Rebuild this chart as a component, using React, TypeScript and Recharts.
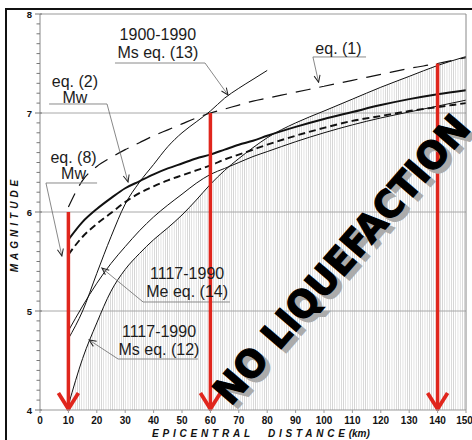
import { Area, ComposedChart, Line, ReferenceDot, ReferenceLine, XAxis, YAxis } from 'recharts'

// epicentral distance (km) where the curves were read
const distances = [10, 15, 20, 25, 30, 35, 40, 45, 50, 55, 60, 65, 70, 75, 80, 90, 100, 110, 120, 130, 140, 150]
// eq. (1), long dashes
const eq1Mag = [6.05, 6.32, 6.46, 6.55, 6.63, 6.7, 6.77, 6.83, 6.89, 6.95, 7.0, 7.04, 7.08, 7.12, 7.15, 7.21, 7.27, 7.33, 7.39, 7.45, 7.5, 7.56]
// eq. (2) Mw, thick solid
const eq2Mag = [5.72, 5.9, 6.03, 6.14, 6.24, 6.31, 6.38, 6.44, 6.49, 6.54, 6.58, 6.63, 6.68, 6.72, 6.77, 6.86, 6.94, 7.01, 7.08, 7.14, 7.19, 7.23]
// eq. (8) Mw, thick dashed
const eq8Mag = [5.57, 5.75, 5.88, 5.99, 6.1, 6.19, 6.26, 6.32, 6.37, 6.42, 6.47, 6.53, 6.58, 6.63, 6.68, 6.77, 6.85, 6.92, 6.97, 7.02, 7.06, 7.1]
// 1900-1990 Ms eq. (13)
const ms13Mag = [4.72, 5.0, 5.38, 5.75, 6.08, 6.3, 6.48, 6.66, 6.8, 6.91, 7.02, 7.15, 7.25, 7.34, 7.43, null, null, null, null, null, null, null]
// 1117-1990 Me eq. (14)
const me14Mag = [4.8, 5.05, 5.28, 5.48, 5.65, 5.81, 5.95, 6.07, 6.18, 6.29, 6.38, 6.44, 6.5, 6.56, 6.61, 6.71, 6.8, 6.88, 6.95, 7.01, 7.07, 7.13]
// 1117-1990 Ms eq. (12), upper limit of the hatched zone
const ms12Mag = [4.05, 4.52, 4.88, 5.2, 5.42, 5.58, 5.72, 5.84, 5.97, 6.12, 6.28, 6.42, 6.54, 6.65, 6.75, 6.9, 7.02, 7.14, 7.26, 7.37, 7.48, 7.57]

const xTicks = [0, 10, 20, 30, 40, 50, 60, 70, 80, 90, 100, 110, 120, 130, 140, 150]
const yLabels = [4, 5, 6, 7, 8]
const gridMags = [5, 6, 7]
const arrowDist = [10, 60, 140]
const arrowTop = [6.0, 7.0, 7.5]

const yTicks = Array.from({ length: 41 }, (_, i) => Math.round(40 + i) / 10)

const chartData = distances.map((d, i) => ({
  d,
  eq1: eq1Mag[i],
  eq2: eq2Mag[i],
  eq8: eq8Mag[i],
  ms13: ms13Mag[i],
  me14: me14Mag[i],
  ms12: ms12Mag[i],
}))

const FONT = 'Liberation Sans, Arial, sans-serif'
const INK = '#111'
const RED = '#e0261d'

// annotation texts with their pointer lines (positions in chart units)
const notes = [
  { d: 41.5, m: 7.735, gap: 18, lines: ['1900-1990', 'Ms eq. (13)'], under: [26.4, 58.1, 7.505], tip: [66.2, 7.182] },
  { d: 105.1, m: 7.596, gap: 18, lines: ['eq. (1)'], under: [96.1, 114.8, 7.566], tip: [98.1, 7.31], from: 'start' },
  { d: 12.3, m: 7.266, gap: 16, lines: ['eq. (2)', 'Mw'], under: [3.2, 23.6, 7.091], tip: [31.0, 6.303] },
  { d: 11.8, m: 6.495, gap: 16, lines: ['eq. (8)', 'Mw'], under: [2.1, 20.1, 6.293], tip: [7.7, 5.556], from: 'start' },
  { d: 51.8, m: 5.326, gap: 18, lines: ['1117-1990', 'Me eq. (14)'], under: [36.3, 66.9, 5.091], tip: [21.8, 5.434], from: 'start' },
  { d: 41.9, m: 4.74, gap: 18, lines: ['1117-1990', 'Ms eq. (12)'], under: [27.5, 55.6, 4.515], tip: [17.3, 4.707], from: 'start' },
]

function LeftTick({ x, y, payload }: any) {
  const v = payload.value
  const major = yLabels.includes(v)
  return (
    <g>
      <line x1={x - (major ? 5 : 3.5)} x2={x + (major ? 2 : 0)} y1={y} y2={y} stroke="#777" strokeWidth={1} />
      {major && (
        <text x={x - 8} y={y + 3.5} textAnchor="end" fontSize={9.5} fontWeight="bold" fontFamily={FONT} fill={INK}>
          {v}
        </text>
      )}
    </g>
  )
}

function RightTick({ x, y, payload }: any) {
  const major = yLabels.includes(payload.value)
  return <line x1={x} x2={x + (major ? 6 : 4)} y1={y} y2={y} stroke="#777" strokeWidth={1} />
}

const segment = (color: string, width: number, marker?: string) => (p: any) => (
  <line
    x1={p.x1}
    y1={p.y1}
    x2={p.x2}
    y2={p.y2}
    stroke={color}
    strokeWidth={width}
    markerEnd={marker ? `url(#${marker})` : undefined}
  />
)

const noteText = (lines: string[], gap: number) => (p: any) => (
  <g>
    {lines.map((t, i) => (
      <text key={t} x={p.cx} y={p.cy + i * gap} textAnchor="middle" fontSize={16} fontFamily={FONT} fill="#1c1c1c">
        {t}
      </text>
    ))}
  </g>
)

function BigText(p: any) {
  const draw = (dx: number, dy: number, fill: string) => (
    <text
      x={0}
      y={0}
      transform={`translate(${p.cx + dx},${p.cy + dy}) rotate(-49)`}
      textAnchor="middle"
      dominantBaseline="central"
      fontFamily="DejaVu Sans Condensed, DejaVu Sans"
      fontWeight="bold"
      fontSize={38}
      textLength={368}
      lengthAdjust="spacingAndGlyphs"
      fill={fill}
      stroke={fill}
      strokeWidth={1.2}
    >
      NO LIQUEFACTION
    </text>
  )
  return (
    <g>
      {draw(5, 4, '#ababab')}
      {draw(0, 0, '#000')}
    </g>
  )
}

function XTitle(p: any) {
  const vb = p.viewBox ?? { x: 40, y: 410 }
  return (
    <text x={vb.x + 112} y={vb.y + 27} fontSize={10} fontWeight="bold" fontStyle="italic" fontFamily={FONT} fill={INK}>
      <tspan letterSpacing={3.8}>EPICENTRAL</tspan>
      <tspan dx={14} letterSpacing={3.8}>DISTANCE</tspan>
      <tspan letterSpacing={0}>(km)</tspan>
    </text>
  )
}

function YTitle(p: any) {
  const vb = p.viewBox ?? { x: 0, y: 14, width: 40, height: 396 }
  const cx = vb.x + 14
  const cy = 224
  return (
    <text
      x={cx}
      y={cy}
      transform={`rotate(-90 ${cx} ${cy})`}
      textAnchor="middle"
      dominantBaseline="central"
      fontSize={10}
      fontWeight="bold"
      fontStyle="italic"
      fontFamily={FONT}
      letterSpacing={4}
      fill={INK}
    >
      MAGNITUDE
    </text>
  )
}

export default function App() {
  return (
    <div style={{ position: 'absolute', left: 0, top: 0, width: 472, height: 440, background: '#fff', overflow: 'hidden' }}>
      <svg width={0} height={0} style={{ position: 'absolute' }}>
        <defs>
          <pattern id="hatch" width={2.2} height={10} patternUnits="userSpaceOnUse">
            <rect x={0} y={0} width={0.7} height={10} fill="#d0d0d0" />
          </pattern>
          <marker id="redHead" viewBox="-20 -12 22 24" refX={1} refY={0} markerWidth={22} markerHeight={24} markerUnits="userSpaceOnUse" orient="auto">
            <path d="M-16,-10 L0,0 L-16,10" fill="none" stroke={RED} strokeWidth={3.8} />
          </marker>
          <marker id="leadHead" viewBox="-9 -5 10 10" refX={0} refY={0} markerWidth={10} markerHeight={10} markerUnits="userSpaceOnUse" orient="auto">
            <path d="M-7,-3 L0,0 L-7,3" fill="none" stroke="#222" strokeWidth={1} />
          </marker>
        </defs>
      </svg>
      <div style={{ position: 'absolute', left: 5, top: 8, width: 470, height: 440, borderTop: '2px solid #111', borderLeft: '2px solid #111' }} />
      <div style={{ position: 'absolute', left: 0, top: 0 }}>
        <ComposedChart width={472} height={440} data={chartData} margin={{ top: 11, right: 0, bottom: 0, left: 0 }}>
          <XAxis
            xAxisId="top"
            orientation="top"
            type="number"
            dataKey="d"
            domain={[0, 150]}
            ticks={xTicks}
            height={3}
            tick={false}
            tickSize={3}
            axisLine={{ stroke: '#999' }}
            tickLine={{ stroke: '#999' }}
          />
          <XAxis
            type="number"
            dataKey="d"
            domain={[0, 150]}
            ticks={xTicks}
            height={30}
            tickSize={3}
            tickMargin={4}
            axisLine={{ stroke: '#999' }}
            tickLine={{ stroke: '#999' }}
            tick={{ fontSize: 10, fontWeight: 'bold', fontFamily: FONT, fill: INK }}
            label={{ content: XTitle }}
          />
          <YAxis
            type="number"
            domain={[4, 8]}
            ticks={yTicks}
            interval={0}
            width={40}
            tickSize={0}
            tickMargin={0}
            tickLine={false}
            axisLine={{ stroke: '#888' }}
            tick={LeftTick}
            label={{ content: YTitle }}
          />
          <YAxis
            yAxisId="r"
            orientation="right"
            type="number"
            domain={[4, 8]}
            ticks={yTicks}
            interval={0}
            width={6}
            tickSize={0}
            tickMargin={0}
            tickLine={false}
            axisLine={{ stroke: '#888' }}
            tick={RightTick}
          />
          <Area dataKey="ms12" stroke="none" fill="url(#hatch)" fillOpacity={1} baseValue={4} isAnimationActive={false} />
          {gridMags.map((m) => (
            <ReferenceLine key={m} y={m} stroke="#a8a8a8" strokeWidth={1} />
          ))}
          <Line dataKey="eq1" type="monotone" stroke={INK} strokeWidth={1.2} strokeDasharray="15 9" dot={false} isAnimationActive={false} />
          <Line dataKey="ms13" type="monotone" stroke={INK} strokeWidth={1} dot={false} isAnimationActive={false} />
          <Line dataKey="eq2" type="monotone" stroke={INK} strokeWidth={2} dot={false} isAnimationActive={false} />
          <Line dataKey="eq8" type="monotone" stroke={INK} strokeWidth={1.9} strokeDasharray="7 4" dot={false} isAnimationActive={false} />
          <Line dataKey="me14" type="monotone" stroke={INK} strokeWidth={1} dot={false} isAnimationActive={false} />
          <Line dataKey="ms12" type="monotone" stroke={INK} strokeWidth={1} dot={false} isAnimationActive={false} />
          {notes.map((n, i) => {
            const [a, b, um] = n.under
            const start = n.from === 'start' ? a : b
            return [
              <ReferenceLine
                key={`u${i}`}
                segment={[{ x: a, y: um }, { x: b, y: um }]}
                shape={segment('#8a8a8a', 1)}
                ifOverflow="visible"
              />,
              <ReferenceLine
                key={`l${i}`}
                segment={[{ x: start, y: um }, { x: n.tip[0], y: n.tip[1] }]}
                shape={segment('#6a6a6a', 0.8, 'leadHead')}
                ifOverflow="visible"
              />,
              <ReferenceDot key={`t${i}`} x={n.d} y={n.m} r={0} shape={noteText(n.lines, n.gap)} ifOverflow="visible" />,
            ]
          })}
          {arrowDist.map((d, i) => (
            <ReferenceLine
              key={`a${d}`}
              segment={[{ x: d, y: arrowTop[i] }, { x: d, y: 4 }]}
              shape={segment(RED, 3.5, 'redHead')}
              ifOverflow="visible"
            />
          ))}
          <ReferenceDot x={106.2} y={5.52} r={0} shape={BigText} ifOverflow="visible" />
        </ComposedChart>
      </div>
    </div>
  )
}
